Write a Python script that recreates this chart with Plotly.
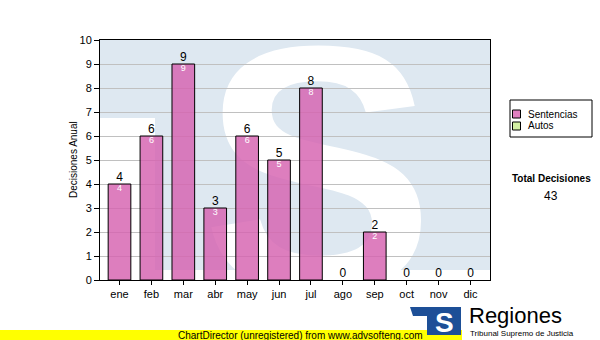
import base64
import plotly.graph_objects as go

# ---------------- data ----------------
months = ['ene', 'feb', 'mar', 'abr', 'may', 'jun', 'jul', 'ago', 'sep', 'oct', 'nov', 'dic']
sentencias = [4, 6, 9, 3, 6, 5, 8, 0, 2, 0, 0, 0]
autos = [0, 0, 0, 0, 0, 0, 0, 0, 0, 0, 0, 0]
series_names = ['Sentencias', 'Autos']
y_ticks = list(range(0, 11))
y_title = 'Decisiones Anual'
total_label = 'Total Decisiones'
footer_text = 'ChartDirector (unregistered) from www.advsofteng.com'
logo_title = 'Regiones'
logo_sub = 'Tribunal Supremo de Justicia'

total = sum(sentencias) + sum(autos)

# ---------------- geometry helpers (plot area 100..490 x 40..280 px) ----------------
L, R, T, B = 100, 490, 40, 280
W, H = 600, 340


def px(x):
    return (x - L) / (R - L)


def py(y):
    return (B - y) / (B - T)


FONT = 'Liberation Sans, Arial, sans-serif'
PINK = 'rgba(214,98,176,0.82)'
GREEN = '#d4f0a4'

fig = go.Figure()

fig.add_trace(go.Bar(
    x=months, y=sentencias, name=series_names[0],
    marker=dict(color=PINK, line=dict(color='black', width=[1 if v > 0 else 0 for v in sentencias])),
    showlegend=False, hoverinfo='x+y'))
fig.add_trace(go.Bar(
    x=months, y=autos, name=series_names[1],
    marker=dict(color=GREEN, line=dict(color='black', width=0)),
    showlegend=False, hoverinfo='x+y'))

# value labels above bars
fig.add_trace(go.Scatter(
    x=months, y=sentencias, mode='text',
    text=[str(v) for v in sentencias], textposition='top center',
    textfont=dict(family=FONT, size=12, color='black'),
    showlegend=False, hoverinfo='skip', cliponaxis=False))
# value labels inside bars
fig.add_trace(go.Scatter(
    x=months, y=sentencias, mode='text',
    text=[str(v) if v > 0 else '' for v in sentencias], textposition='bottom center',
    textfont=dict(family=FONT, size=9, color='white'),
    showlegend=False, hoverinfo='skip', cliponaxis=False))

# ---------------- watermark ----------------
svg = (
    '<svg xmlns="http://www.w3.org/2000/svg" width="390" height="240" viewBox="0 0 390 240">'
    '<rect x="55" y="0" width="335" height="230" fill="#dee8f1"/>'
    '<rect x="0" y="0" width="55" height="78" fill="#dee8f1"/>'
    '<text x="218" y="250" font-family="Liberation Sans, Arial, sans-serif" font-weight="bold" '
    'font-size="350" fill="#ffffff" text-anchor="middle">S</text>'
    '</svg>'
)
src = 'data:image/svg+xml;base64,' + base64.b64encode(svg.encode()).decode()

shapes = []
annotations = []

# legend box
shapes.append(dict(type='rect', xref='paper', yref='paper',
                   x0=px(510), x1=px(592), y0=py(137), y1=py(100),
                   line=dict(color='black', width=1), fillcolor='white'))
leg_colors = ['#e080c0', GREEN]
for i, name in enumerate(series_names):
    cy = 114 + i * 12
    shapes.append(dict(type='rect', xref='paper', yref='paper',
                       x0=px(512.5), x1=px(520.5), y0=py(cy + 4), y1=py(cy - 4),
                       line=dict(color='black', width=1), fillcolor=leg_colors[i]))
    annotations.append(dict(text=name, xref='paper', yref='paper', x=px(526), y=py(cy),
                            xanchor='left', yanchor='middle', showarrow=False,
                            font=dict(family=FONT, size=10, color='black')))

annotations.append(dict(text='<b>' + total_label + '</b>', xref='paper', yref='paper',
                        x=px(551), y=py(178), xanchor='center', yanchor='middle', showarrow=False,
                        font=dict(family=FONT, size=10, color='black')))
annotations.append(dict(text=str(total), xref='paper', yref='paper',
                        x=px(551), y=py(196), xanchor='center', yanchor='middle', showarrow=False,
                        font=dict(family=FONT, size=12, color='black')))

# y title
annotations.append(dict(text=y_title, xref='paper', yref='paper', x=px(73), y=py(160),
                        xanchor='center', yanchor='middle', textangle=-90, showarrow=False,
                        font=dict(family=FONT, size=10, color='black')))

# footer banner
shapes.append(dict(type='rect', xref='paper', yref='paper', x0=px(0), x1=px(600),
                   y0=py(341), y1=py(330), line=dict(width=0), fillcolor='#ffff00'))
shapes.append(dict(type='rect', xref='paper', yref='paper', x0=px(462), x1=px(601),
                   y0=py(341), y1=py(328), line=dict(width=0), fillcolor='white'))
annotations.append(dict(text=footer_text, xref='paper', yref='paper', x=px(300), y=py(335),
                        xanchor='center', yanchor='middle', showarrow=False,
                        font=dict(family=FONT, size=10, color='black')))

# logo
logo_path = 'M {} {} L {} {} L {} {} L {} {} L {} {} L {} {} Z'.format(
    px(410), py(307), px(461), py(307), px(461), py(335), px(427), py(335),
    px(427), py(316), px(413), py(316))
shapes.append(dict(type='path', xref='paper', yref='paper', path=logo_path,
                   line=dict(width=0), fillcolor='#1d4f97'))
annotations.append(dict(text='<b>S</b>', xref='paper', yref='paper', x=px(444), y=py(322),
                        xanchor='center', yanchor='middle', showarrow=False,
                        font=dict(family=FONT, size=28, color='white')))
annotations.append(dict(text=logo_title, xref='paper', yref='paper', x=px(467), y=py(315),
                        xanchor='left', yanchor='middle', showarrow=False,
                        font=dict(family=FONT, size=22, color='black')))
annotations.append(dict(text=logo_sub, xref='paper', yref='paper', x=px(468), y=py(333.5),
                        xanchor='left', yanchor='middle', showarrow=False,
                        font=dict(family=FONT, size=8, color='black')))

fig.update_layout(
    width=W, height=H,
    margin=dict(l=L, r=W - R, t=T, b=H - B, pad=0),
    paper_bgcolor='white', plot_bgcolor='white',
    barmode='overlay', bargap=0.29,
    showlegend=False,
    font=dict(family=FONT, size=11, color='black'),
    images=[dict(source=src, xref='paper', yref='paper', x=0, y=1, sizex=1, sizey=1,
                 xanchor='left', yanchor='top', sizing='stretch', layer='below')],
    shapes=shapes, annotations=annotations,
    xaxis=dict(type='category', categoryorder='array', categoryarray=months,
               showline=True, linecolor='black', linewidth=1, mirror=True,
               ticks='outside', ticklen=4, tickcolor='black', showgrid=False,
               tickfont=dict(family=FONT, size=11, color='black'), fixedrange=True),
    yaxis=dict(range=[0, 10], tickvals=y_ticks, showline=True, linecolor='black', linewidth=1,
               mirror=True, ticks='outside', ticklen=5, tickcolor='black',
               showgrid=True, gridcolor='#c0c0c0', gridwidth=1, zeroline=False,
               tickfont=dict(family=FONT, size=11, color='black'), fixedrange=True),
)

fig.write_html('out.html')
